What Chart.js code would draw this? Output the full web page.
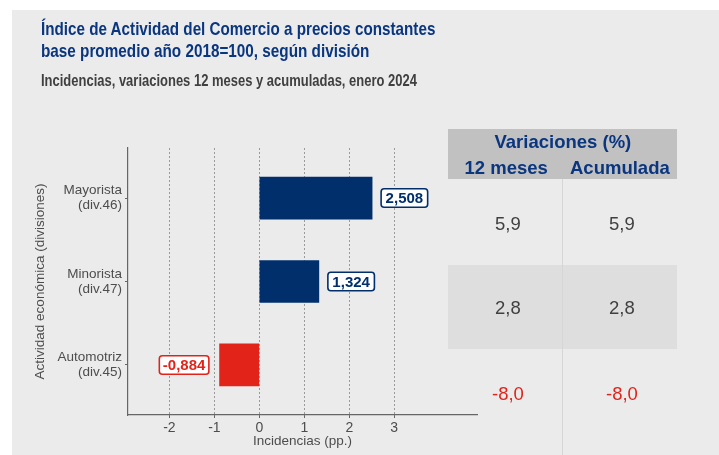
<!DOCTYPE html>
<html>
<head>
<meta charset="utf-8">
<script src="https://cdn.jsdelivr.net/npm/chart.js@4.4.1/dist/chart.umd.min.js"></script>
<style>
  html, body { margin: 0; padding: 0; background: #ffffff; }
  #wrap { position: relative; width: 719px; height: 455px; overflow: hidden; font-family: 'Liberation Sans', Arial, sans-serif; }
  #panel { position: absolute; left: 12px; top: 10px; width: 707px; height: 445px; background: #ebebeb; }
  #chart { position: absolute; left: 0; top: 0; }
  .t { position: absolute; white-space: nowrap; line-height: 1; }
  .narrow { font-family: 'Liberation Sans Narrow', 'Liberation Sans', Arial, sans-serif; font-weight: bold; transform-origin: left top; }
  .box { position: absolute; }
</style>
</head>
<body>
<div id="wrap">
  <div id="panel"></div>
  <div class="box" style="left:448px; top:129px; width:229px; height:50px; background:#c1c1c1;"></div>
  <div class="box" style="left:448px; top:265px; width:229px; height:84px; background:#dedede;"></div>
  <div class="box" style="left:562px; top:179px; width:1px; height:276px; background:#d6d6d6;"></div>
  <canvas id="chart" width="719" height="455"></canvas>
  <div id="texts"></div>
</div>
<script>
// datos del gráfico
const categories = [['Mayorista', '(div.46)'], ['Minorista', '(div.47)'], ['Automotriz', '(div.45)']];
const incidencias = [2.508, 1.324, -0.884];
const var12meses = [5.9, 2.8, -8.0];
const varAcumulada = [5.9, 2.8, -8.0];
const xTicks = [-2, -1, 0, 1, 2, 3];

const NAVY = '#002f6c';
const RED = '#e2231a';
const TXT = '#4d4d4d';

const fmt = (v, d) => v.toFixed(d).replace('.', ',');

// textos en HTML
const texts = document.getElementById('texts');
function addText(str, opts) {
    const el = document.createElement('div');
    el.className = 't' + (opts.narrow ? ' narrow' : '');
    el.textContent = str;
    el.style.fontSize = opts.size + 'px';
    el.style.color = opts.color;
    if (opts.bold) el.style.fontWeight = 'bold';
    el.style.top = (opts.baseline - 0.8465 * opts.size) + 'px';
    texts.appendChild(el);
    if (opts.cx !== undefined) {
        el.style.left = (opts.cx - el.offsetWidth / 2) + 'px';
    } else {
        el.style.left = opts.left + 'px';
    }
    if (opts.width) {
        const s = opts.width / el.offsetWidth;
        el.style.transform = 'scaleX(' + s + ')';
    }
    return el;
}

addText('Índice de Actividad del Comercio a precios constantes', { left: 41, baseline: 36, size: 18.5, color: '#0a3680', narrow: true, width: 394 });
addText('base promedio año 2018=100, según división', { left: 41, baseline: 57.7, size: 18.5, color: '#0a3680', narrow: true, width: 328 });
addText('Incidencias, variaciones 12 meses y acumuladas, enero 2024', { left: 41, baseline: 86, size: 16.5, color: '#404040', narrow: true, width: 376 });

// tabla de variaciones
addText('Variaciones (%)', { cx: 563, baseline: 148.5, size: 18.5, color: '#0a3680', bold: true });
addText('12 meses', { cx: 506, baseline: 174.3, size: 18.5, color: '#0a3680', bold: true });
addText('Acumulada', { cx: 620, baseline: 174.3, size: 18.5, color: '#0a3680', bold: true });
const rowBaselines = [230.3, 315, 400.3];
var12meses.forEach((v, i) => {
    const c = v < 0 ? RED : '#404040';
    addText(fmt(v, 1), { cx: 508, baseline: rowBaselines[i], size: 18.5, color: c });
    addText(fmt(varAcumulada[i], 1), { cx: 622, baseline: rowBaselines[i], size: 18.5, color: c });
});

// etiquetas de las barras
const barLabels = {
    id: 'barLabels',
    afterDatasetsDraw(chart) {
        const ctx = chart.ctx;
        const meta = chart.getDatasetMeta(0);
        ctx.save();
        ctx.font = 'bold 15px "Liberation Sans", Arial, sans-serif';
        ctx.textBaseline = 'middle';
        meta.data.forEach((bar, i) => {
            const v = incidencias[i];
            const txt = fmt(v, 3);
            const tw = ctx.measureText(txt).width;
            const col = v < 0 ? RED : NAVY;
            const h = 18.5;
            let bx, bw;
            if (v >= 0) {
                bw = tw + 9;
                bx = bar.x + 9;
            } else {
                bw = tw + 7;
                bx = bar.x - 10.7 - bw;
            }
            const by = bar.y - h / 2;
            ctx.beginPath();
            ctx.roundRect(bx, by, bw, h, 3);
            ctx.fillStyle = '#ffffff';
            ctx.fill();
            ctx.lineWidth = 1.6;
            ctx.strokeStyle = col;
            ctx.stroke();
            ctx.fillStyle = col;
            ctx.textAlign = 'center';
            ctx.fillText(txt, bx + bw / 2, bar.y + 1);
        });
        ctx.restore();
    }
};

new Chart(document.getElementById('chart').getContext('2d'), {
    type: 'bar',
    data: {
        datasets: [{
            data: incidencias.map((v, i) => ({ x: v, y: i + 1 })),
            backgroundColor: incidencias.map(v => v < 0 ? RED : NAVY),
            barThickness: 42
        }]
    },
    options: {
        indexAxis: 'y',
        responsive: false,
        animation: false,
        devicePixelRatio: 1,
        layout: { padding: { left: 0, top: 148, right: 242, bottom: 0 } },
        plugins: { legend: { display: false }, tooltip: { enabled: false } },
        scales: {
            x: {
                type: 'linear',
                min: -2.92,
                max: 4.84,
                afterBuildTicks: s => { s.ticks = xTicks.map(v => ({ value: v })); },
                afterFit: s => { s.height = 40; },
                grid: { color: '#9a9a9a', lineWidth: 1, drawTicks: true, tickLength: 3, tickColor: '#666666', tickBorderDash: [] },
                border: { display: true, color: '#666666', width: 1.2, dash: [2, 2] },
                ticks: { padding: 2, color: TXT, font: { size: 14, family: '"Liberation Sans", Arial' }, callback: v => String(v) },
                title: { display: true, text: 'Incidencias (pp.)', color: TXT, font: { size: 13.5, family: '"Liberation Sans", Arial' }, padding: { top: 0, bottom: 5.5 } }
            },
            y: {
                type: 'linear',
                reverse: true,
                offset: false,
                min: 0.4,
                max: 3.6,
                afterBuildTicks: s => { s.ticks = categories.map((c, i) => ({ value: i + 1 })); },
                afterFit: s => { s.width = 128; },
                grid: { offset: false, drawOnChartArea: false, drawTicks: true, tickLength: 3, tickColor: '#666666' },
                border: { display: true, color: '#666666', width: 1.2 },
                ticks: {
                    padding: 3,
                    color: TXT,
                    font: { size: 13.5, family: '"Liberation Sans", Arial', lineHeight: 1.08 },
                    callback: v => categories[v - 1] || ''
                },
                title: { display: true, text: 'Actividad económica (divisiones)', color: TXT, font: { size: 13.5, family: '"Liberation Sans", Arial' }, padding: { top: 31.9, bottom: 0 } }
            }
        }
    },
    plugins: [barLabels]
});
</script>
</body>
</html>
